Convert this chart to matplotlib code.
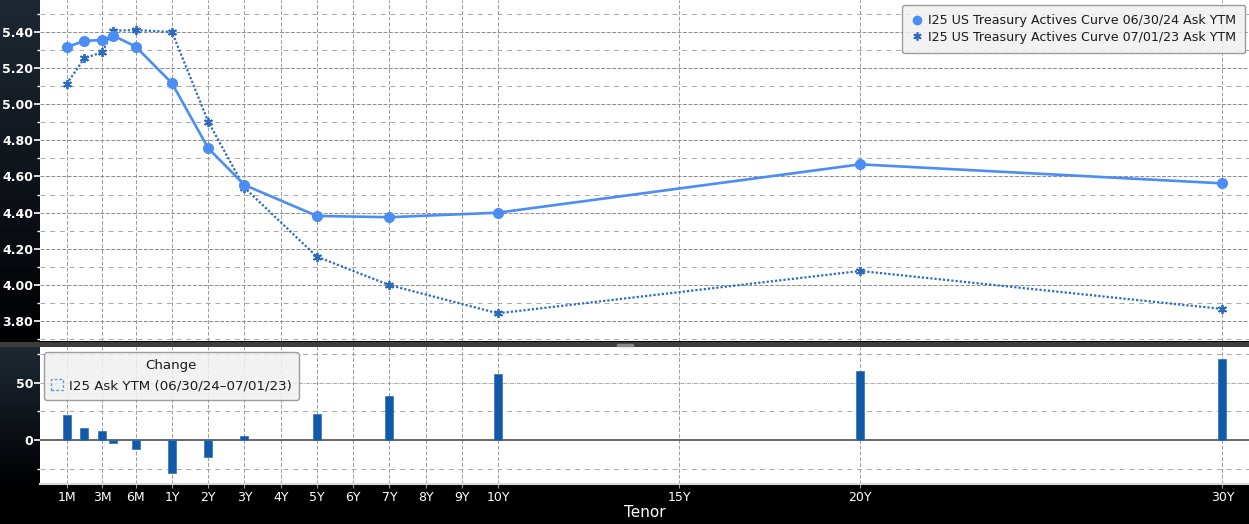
import numpy as np
import matplotlib
matplotlib.use("Agg")
import matplotlib.pyplot as plt
from matplotlib.lines import Line2D
from matplotlib.patches import Patch, Rectangle
from matplotlib.ticker import FixedLocator, MultipleLocator

# tenors in months and the two curves (yield %), change in bp
tenor_months = [1, 2, 3, 4, 6, 12, 24, 36, 60, 84, 120, 240, 360]
curve_2024 = [5.314, 5.349, 5.354, 5.378, 5.317, 5.115, 4.756, 4.553, 4.382, 4.375, 4.400, 4.667, 4.562]
curve_2023 = [5.111, 5.253, 5.286, 5.405, 5.409, 5.398, 4.903, 4.538, 4.157, 4.000, 3.844, 4.078, 3.868]
change_bp = [21.8, 10.5, 7.9, -2.3, -7.9, -28.5, -14.5, 3.2, 22.7, 38.7, 57.6, 60.2, 70.4]

tick_months = [1, 3, 6, 12, 24, 36, 48, 60, 72, 84, 96, 108, 120, 180, 240, 360]
tick_labels = ["1M", "3M", "6M", "1Y", "2Y", "3Y", "4Y", "5Y", "6Y", "7Y", "8Y", "9Y",
               "10Y", "15Y", "20Y", "30Y"]
yield_ticks = [3.80, 4.00, 4.20, 4.40, 4.60, 4.80, 5.00, 5.20, 5.40]
change_ticks = [0, 50]

label_2024 = "I25 US Treasury Actives Curve 06/30/24 Ask YTM"
label_2023 = "I25 US Treasury Actives Curve 07/01/23 Ask YTM"
label_change = "I25 Ask YTM (06/30/24\u201307/01/23)"

# bloomberg style tenor axis: months squeezed, linear in years after 1Y
knot_m = [0, 1, 3, 6, 12, 360]
knot_p = [-2.4, -1.91, -0.93, 0.0, 1.0, 30.0]


def tpos(m):
    return np.interp(m, knot_m, knot_p)


W, H = 1249, 524
fig = plt.figure(figsize=(W / 100, H / 100), dpi=100)
fig.patch.set_facecolor("black")

# background: dark gradient bands behind each panel, grey separator
bg = np.zeros((H, 1, 3))
top_c = np.array([0.12, 0.16, 0.20])
bot_c = np.array([0.0, 0.0, 0.01])
bg[0:342, 0] = np.linspace(top_c, bot_c, 342)
bg[342:347, 0] = 0.24
bg[347:485, 0] = np.linspace(top_c, bot_c, 138)
axbg = fig.add_axes([0, 0, 1, 1], zorder=-5)
axbg.imshow(bg, aspect="auto", extent=[0, 1, 0, 1], interpolation="bilinear")
axbg.axis("off")

L = 40 / W
ax = fig.add_axes([L, 1 - 341 / H, 1 - L, 341 / H])
ax2 = fig.add_axes([L, 1 - 484 / H, 1 - L, 137 / H], sharex=ax)

fig.add_artist(Rectangle((617 / W, 1 - 346 / H), 16 / W, 2 / H, color="#8a8a8a",
                         transform=fig.transFigure))

x = tpos(tenor_months)
xt = tpos(tick_months)
xmin = 1 + (40 - 172) / 36.22
xmax = 1 + (1249 - 172) / 36.22

c_solid = "#4a8ef5"
c_dot = "#2b6bc0"

ax.plot(x, curve_2024, color=c_solid, lw=1.9, marker="o", ms=7, zorder=4)
ax.plot(x, curve_2023, color=c_dot, lw=1.6, ls=(0, (1.0, 0.9)), marker=(6, 2, 0), ms=6.5,
        mew=1.3, zorder=3)

ax.set_xlim(xmin, xmax)
ax.set_ylim(3.691, 5.575)
ax.set_facecolor("white")
for s in ax.spines.values():
    s.set_visible(False)
ax.yaxis.set_major_locator(FixedLocator(yield_ticks))
ax.yaxis.set_minor_locator(MultipleLocator(0.1))
ax.set_yticklabels(["%.2f" % v for v in yield_ticks], fontweight="bold")
ax.tick_params(axis="y", which="major", colors="white", labelsize=9, length=4, width=1.2, pad=1)
ax.tick_params(axis="y", which="minor", colors="white", length=2.5, width=1)
ax.tick_params(axis="x", length=0, labelbottom=False)
ax.grid(True, axis="y", which="major", color="#8c8c8c", lw=0.7, ls=(0, (4, 1.6)))
ax.grid(True, axis="y", which="minor", color="#a8a8a8", lw=0.7, ls=(0, (5, 5)))
ax.grid(True, axis="x", which="major", color="#9a9a9a", lw=0.7, ls=(0, (4, 2)))

h1 = Line2D([], [], color=c_solid, marker="o", ls="none", ms=6)
h2 = Line2D([], [], color=c_dot, marker=(6, 2, 0), ls="none", ms=6, mew=1.2)
leg = ax.legend([h1, h2], [label_2024, label_2023], loc="upper right",
                bbox_to_anchor=(0.997, 0.986), borderaxespad=0, fontsize=9.1,
                handlelength=0.8, handletextpad=0.5, labelspacing=0.28,
                borderpad=0.75, framealpha=0.85, facecolor="#f0f0f0",
                edgecolor="#8c8c8c", fancybox=True)
for t in leg.get_texts():
    t.set_color("#1a1a1a")

# change panel
ax2.bar(x, change_bp, width=0.22, color="#1259a8", edgecolor="#2e6fbd", lw=0.5, zorder=3)
ax2.axhline(0, color="#505050", lw=1.2, zorder=2)
ax2.set_ylim(-38.4, 81.2)
ax2.set_facecolor("white")
for s in ax2.spines.values():
    s.set_visible(False)
ax2.spines["bottom"].set_visible(True)
ax2.spines["bottom"].set_color("#d8d8d8")
ax2.spines["bottom"].set_linewidth(1.5)
ax2.yaxis.set_major_locator(FixedLocator(change_ticks))
ax2.yaxis.set_minor_locator(FixedLocator([-25, 25, 75]))
ax2.set_yticklabels([str(v) for v in change_ticks], fontweight="bold")
ax2.tick_params(axis="y", which="major", colors="white", labelsize=9, length=4, width=1.2, pad=1)
ax2.tick_params(axis="y", which="minor", colors="white", length=2.5, width=1)
ax2.grid(True, axis="y", which="minor", color="#a8a8a8", lw=0.7, ls=(0, (5, 5)))
ax2.grid(True, axis="x", which="major", color="#9a9a9a", lw=0.7, ls=(0, (4, 2)))
ax2.axhline(50, color="#a8a8a8", lw=0.7, ls=(0, (4, 1, 1, 1)), zorder=1)

ax2.set_xticks(xt)
ax2.set_xticklabels(tick_labels)
ax2.tick_params(axis="x", colors="#9a9a9a", labelcolor="white", labelsize=9, length=3, pad=2)
ax2.set_xlabel("Tenor", color="white", fontsize=11, labelpad=1)

hb = Patch(facecolor="none", edgecolor="#5b9bd5", ls=(0, (2, 1.5)), lw=1.0)
leg2 = ax2.legend([hb], [label_change], title="Change", loc="upper left",
                  bbox_to_anchor=(0.0033, 0.963), borderaxespad=0, fontsize=9.6,
                  title_fontsize=9.6, handlelength=0.9, handleheight=0.9,
                  handletextpad=0.4, borderpad=0.55, framealpha=0.85,
                  facecolor="#f0f0f0", edgecolor="#8c8c8c", fancybox=True)
leg2.get_title().set_color("#1a1a1a")
for t in leg2.get_texts():
    t.set_color("#1a1a1a")

fig.savefig("out.png", dpi=100, facecolor=fig.get_facecolor())
